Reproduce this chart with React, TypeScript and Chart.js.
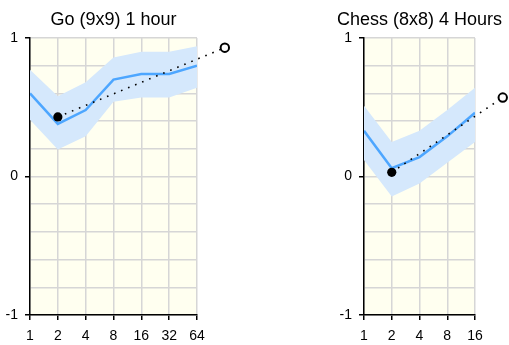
import React, { useEffect, useRef } from "react";
import { Chart, registerables } from "chart.js";

Chart.register(...registerables);

// ---- Data ----
const goTitle = "Go (9x9) 1 hour";
const goX = [1, 2, 4, 8, 16, 32, 64];
const goMean = [0.6, 0.38, 0.48, 0.7, 0.74, 0.74, 0.8];
const goUpper = [0.77, 0.58, 0.68, 0.86, 0.9, 0.9, 0.94];
const goLower = [0.41, 0.195, 0.29, 0.54, 0.57, 0.57, 0.64];
const goRefX = [2, 128];
const goRefY = [0.43, 0.93];

const chessTitle = "Chess (8x8) 4 Hours";
const chessX = [1, 2, 4, 8, 16];
const chessMean = [0.33, 0.06, 0.14, 0.29, 0.46];
const chessUpper = [0.51, 0.25, 0.33, 0.48, 0.64];
const chessLower = [0.12, -0.145, -0.05, 0.1, 0.25];
const chessRefX = [2, 32];
const chessRefY = [0.03, 0.57];

const yTickLabels = [-1, 0, 1];

// ---- Styles ----
const FONT = '"Liberation Sans", Arial, Helvetica, sans-serif';
const BG = "rgb(255,255,240)";
const GRID = "rgb(214,214,214)";
const BAND = "rgba(213,232,252,1)";
const LINE = "rgb(77,166,255)";

function isInt(v: number) {
  return Math.abs(v - Math.round(v)) < 1e-6;
}

function buildConfig(
  title: string,
  xs: number[],
  mean: number[],
  upper: number[],
  lower: number[],
  refX: number[],
  refY: number[],
  padLeft: number,
  padRight: number
): any {
  const pts = (ys: number[]) => xs.map((x, i) => ({ x, y: ys[i] }));
  const refPts = refX.map((x, i) => ({ x, y: refY[i] }));
  const xMin = xs[0];
  const xMax = xs[xs.length - 1];

  const bgPlugin = {
    id: "bgfill",
    beforeDraw(chart: any) {
      const { ctx, chartArea } = chart;
      ctx.save();
      ctx.fillStyle = BG;
      ctx.fillRect(chartArea.left, chartArea.top, chartArea.right - chartArea.left, chartArea.bottom - chartArea.top);
      ctx.restore();
    },
  };
  const markerPlugin = {
    id: "refmarkers",
    afterDatasetsDraw(chart: any) {
      const { ctx } = chart;
      const xs2 = chart.scales.x;
      const ys2 = chart.scales.y;
      ctx.save();
      refPts.forEach((p, i) => {
        const px = xs2.getPixelForValue(p.x);
        const py = ys2.getPixelForValue(p.y);
        ctx.beginPath();
        if (i === 0) {
          ctx.arc(px, py, 4.6, 0, Math.PI * 2);
          ctx.fillStyle = "#000";
          ctx.fill();
        } else {
          ctx.arc(px, py, 4.2, 0, Math.PI * 2);
          ctx.fillStyle = "#fff";
          ctx.fill();
          ctx.lineWidth = 2;
          ctx.strokeStyle = "#000";
          ctx.stroke();
        }
      });
      ctx.restore();
    },
  };
  const titlePlugin = {
    id: "ctitle",
    afterDraw(chart: any) {
      const { ctx, chartArea } = chart;
      ctx.save();
      ctx.font = `18px ${FONT}`;
      ctx.fillStyle = "#000";
      ctx.textAlign = "center";
      ctx.textBaseline = "alphabetic";
      ctx.fillText(title, (chartArea.left + chartArea.right) / 2, 25);
      ctx.restore();
    },
  };

  return {
    type: "line",
    data: {
      datasets: [
        {
          label: "ref",
          data: refPts,
          borderColor: "#000",
          borderWidth: 1.6,
          borderDash: [1.6, 6],
          pointRadius: 0,
          clip: false,
          order: 0,
          fill: false,
        },
        {
          label: "mean",
          data: pts(mean),
          borderColor: LINE,
          borderWidth: 2.5,
          pointRadius: 0,
          fill: false,
          order: 1,
        },
        {
          label: "upper",
          data: pts(upper),
          borderWidth: 0,
          borderColor: "transparent",
          backgroundColor: BAND,
          pointRadius: 0,
          fill: "+1",
          order: 2,
        },
        {
          label: "lower",
          data: pts(lower),
          borderWidth: 0,
          borderColor: "transparent",
          backgroundColor: BAND,
          pointRadius: 0,
          fill: false,
          order: 3,
        },
      ],
    },
    options: {
      responsive: false,
      animation: false,
      devicePixelRatio: 1,
      layout: { padding: { top: 38, left: padLeft, right: padRight, bottom: 0 } },
      plugins: {
        legend: { display: false },
        tooltip: { enabled: false },
        title: { display: false },
      },
      scales: {
        x: {
          type: "logarithmic",
          min: xMin,
          max: xMax,
          afterBuildTicks: (s: any) => {
            s.ticks = xs.map((v) => ({ value: v }));
          },
          afterFit: (s: any) => {
            s.height = 30;
          },
          ticks: {
            autoSkip: false,
            maxRotation: 0,
            padding: 8,
            color: "#000",
            font: { family: FONT, size: 14 },
            callback: (v: any) => String(v),
          },
          grid: {
            color: GRID,
            lineWidth: 1.5,
            tickColor: "#000",
            tickLength: 5,
            drawTicks: true,
          },
          border: { color: "#000", width: 1.5 },
        },
        y: {
          type: "linear",
          min: -1,
          max: 1,
          afterFit: (s: any) => {
            s.width = 30;
          },
          ticks: {
            stepSize: 0.2,
            autoSkip: false,
            padding: 7,
            color: "#000",
            font: { family: FONT, size: 14 },
            callback: (v: any) => {
              const n = Number(v);
              const hit = yTickLabels.find((t) => Math.abs(t - n) < 1e-6);
              return hit !== undefined ? String(hit) : "";
            },
          },
          grid: {
            color: GRID,
            lineWidth: 1.5,
            tickLength: 5,
            drawTicks: true,
            tickColor: (c: any) => (c.tick && isInt(c.tick.value) ? "#000" : "rgba(0,0,0,0)"),
          },
          border: { color: "#000", width: 1.5 },
        },
      },
    },
    plugins: [bgPlugin, markerPlugin, titlePlugin],
  };
}

function ChartCanvas(props: { width: number; height: number; left: number; config: () => any }) {
  const ref = useRef<HTMLCanvasElement | null>(null);
  useEffect(() => {
    if (!ref.current) return;
    const chart = new Chart(ref.current, props.config());
    return () => chart.destroy();
  }, []);
  return (
    <canvas
      ref={ref}
      width={props.width}
      height={props.height}
      style={{ position: "absolute", left: props.left, top: 0, width: props.width, height: props.height }}
    />
  );
}

export default function App() {
  return (
    <div style={{ position: "absolute", left: 0, top: 0, width: 509, height: 345, background: "#fff" }}>
      <ChartCanvas
        width={254}
        height={345}
        left={0}
        config={() => buildConfig(goTitle, goX, goMean, goUpper, goLower, goRefX, goRefY, 0, 57)}
      />
      <ChartCanvas
        width={255}
        height={345}
        left={254}
        config={() => buildConfig(chessTitle, chessX, chessMean, chessUpper, chessLower, chessRefX, chessRefY, 80, 34)}
      />
    </div>
  );
}
